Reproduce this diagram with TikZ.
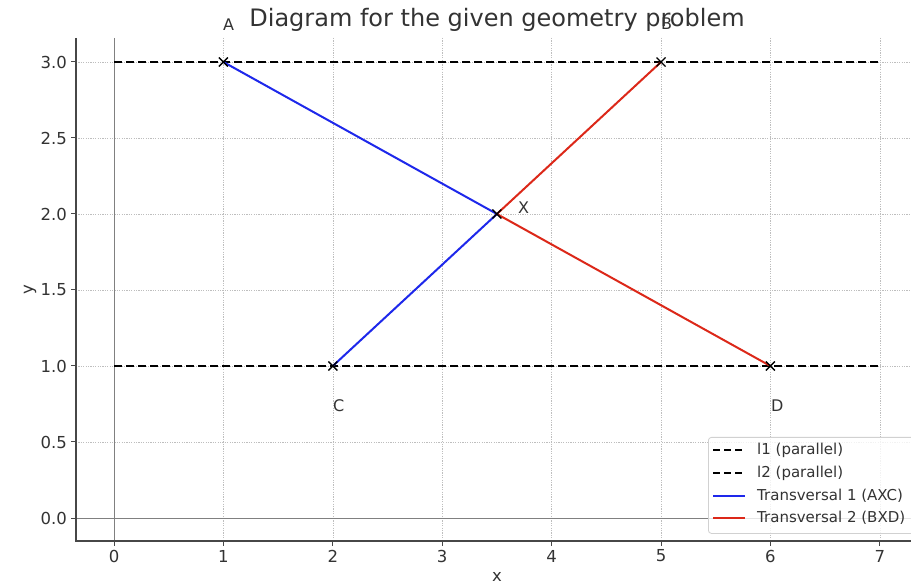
\documentclass[tikz,border=0pt]{standalone}
\usepackage{fontspec}
\setmainfont{DejaVu Sans}
\definecolor{txt}{HTML}{333333}
\definecolor{gridc}{HTML}{BEBEBE}
\definecolor{axc}{HTML}{808080}
\definecolor{tblue}{RGB}{30,40,235}
\definecolor{tred}{RGB}{220,40,25}
\tikzset{
  gridline/.style={gridc, line width=0.6pt, dash pattern=on 1.2pt off 1.2pt},
  zeroline/.style={axc, line width=1pt},
  spine/.style={txt!90, line width=1.4pt},
  parline/.style={black, line width=2pt, dash pattern=on 8pt off 4pt},
  blueline/.style={tblue, line width=2pt},
  redline/.style={tred, line width=2pt},
  ticklab/.style={text=txt, font=\fontsize{16.5}{18}\selectfont, inner sep=0pt},
  ptlab/.style={text=txt, font=\fontsize{16}{18}\selectfont, inner sep=0pt, anchor=west},
  leglab/.style={text=txt, font=\fontsize{15}{17}\selectfont, inner sep=0pt, anchor=west},
  xmark/.style={black, line width=1.4pt}
}
\begin{document}
\begin{tikzpicture}[x=1pt,y=-1pt]
\useasboundingbox (0,0) rectangle (911,585);
\fill[white] (0,0) rectangle (911,585);
% title
\node[text=txt, font=\fontsize{24}{28}\selectfont, inner sep=0pt] (title) at (497,20) {Diagram for the given geometry problem};
% axes frame content
\begin{scope}
\clip (76,38) rectangle (911,541);
\foreach \i in {1,...,7} {
  \draw[gridline] ({114+109.4*\i},38) -- ({114+109.4*\i},541);
}
\foreach \j in {0.5,1.0,1.5,2.0,2.5,3.0} {
  \draw[gridline] (76,{518-152*\j}) -- (911,{518-152*\j});
}
\draw[zeroline] (114,38) -- (114,541);
\draw[zeroline] (76,518) -- (911,518);
\begin{scope}[shift={(114,518)}, x={(109.4pt,0pt)}, y={(0pt,152pt)}]
  \coordinate (A) at (1,3);
  \coordinate (B) at (5,3);
  \coordinate (C) at (2,1);
  \coordinate (D) at (6,1);
  \coordinate (X) at (3.5,2);
  \coordinate (L1s) at (0,3);
  \coordinate (L1e) at (7,3);
  \coordinate (L2s) at (0,1);
  \coordinate (L2e) at (7,1);
  \draw[parline] (L1s) -- (L1e);
  \draw[parline] (L2s) -- (L2e);
  \draw[blueline] (A) -- (X) -- (C);
  \draw[redline] (B) -- (X) -- (D);
  \foreach \p in {A,B,C,D,X} {
    \draw[xmark] (\p) ++(-4.5pt,-4.5pt) -- ++(9pt,9pt);
    \draw[xmark] (\p) ++(-4.5pt,4.5pt) -- ++(9pt,-9pt);
  }
\end{scope}
\end{scope}
% point labels
\node[ptlab] (labA) at (223,25) {A};
\node[ptlab] (labB) at (661,24) {B};
\node[ptlab] (labC) at (333,406) {C};
\node[ptlab] (labD) at (771,406) {D};
\node[ptlab] (labX) at (518,208) {X};
% spines
\draw[spine] (76,38) -- (76,541) -- (911,541);
% x ticks
\foreach \i in {0,...,7} {
  \draw[spine, line width=1pt] ({114+109.4*\i},541) -- ({114+109.4*\i},546);
  \node[ticklab] (xt\i) at ({114+109.4*\i},556) {\i};
}
% y ticks
\foreach \j/\s in {0.0/0.0,0.5/0.5,1.0/1.0,1.5/1.5,2.0/2.0,2.5/2.5,3.0/3.0} {
  \draw[spine, line width=1pt] (76,{518-152*\j}) -- (71,{518-152*\j});
  \node[ticklab, anchor=east] (yt\s) at (67,{518-152*\j}) {\s};
}
% axis labels
\node[ticklab] (xlab) at (497,577) {x};
\node[ticklab, rotate=90] (ylab) at (30,290) {y};
% legend
\node[draw=gridc!70, fill=white, fill opacity=0.8, rounded corners=3pt, minimum width=220pt, minimum height=96pt, anchor=north west, line width=0.8pt] (legbox) at (708,437) {};
\coordinate (g1a) at (713,450); \coordinate (g1b) at (745,450);
\coordinate (g2a) at (713,473); \coordinate (g2b) at (745,473);
\coordinate (g3a) at (713,496); \coordinate (g3b) at (745,496);
\coordinate (g4a) at (713,518); \coordinate (g4b) at (745,518);
\draw[parline, dash pattern=on 7pt off 4pt] (g1a) -- (g1b);
\draw[parline, dash pattern=on 7pt off 4pt] (g2a) -- (g2b);
\draw[blueline] (g3a) -- (g3b);
\draw[redline] (g4a) -- (g4b);
\node[leglab] (lg1) at (757,450) {l1 (parallel)};
\node[leglab] (lg2) at (757,473) {l2 (parallel)};
\node[leglab] (lg3) at (757,496) {Transversal 1 (AXC)};
\node[leglab] (lg4) at (757,518) {Transversal 2 (BXD)};
\end{tikzpicture}
\end{document}
